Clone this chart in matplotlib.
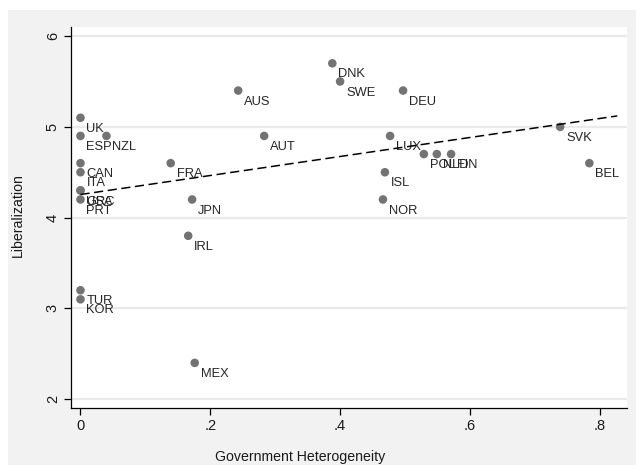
import matplotlib
matplotlib.use("Agg")
import matplotlib.pyplot as plt
from matplotlib.patches import Rectangle
import numpy as np

plt.rcParams['font.family'] = ['Liberation Sans', 'DejaVu Sans']

countries = ["UK", "ESP", "NZL", "CAN", "ITA", "GRC", "USA", "PRT", "TUR", "KOR",
             "FRA", "JPN", "IRL", "MEX", "AUS", "AUT", "DNK", "SWE", "DEU", "LUX",
             "ISL", "NOR", "POL", "NLD", "FIN", "SVK", "BEL"]
heterogeneity = [0.0, 0.0, 0.04, 0.0, 0.0, 0.0, 0.0, 0.0, 0.0, 0.0,
                 0.139, 0.172, 0.166, 0.176, 0.243, 0.283, 0.388, 0.400, 0.497, 0.477,
                 0.469, 0.466, 0.529, 0.549, 0.571, 0.739, 0.784]
liberalization = [5.1, 4.9, 4.9, 4.6, 4.5, 4.3, 4.3, 4.2, 3.2, 3.1,
                  4.6, 4.2, 3.8, 2.4, 5.4, 4.9, 5.7, 5.5, 5.4, 4.9,
                  4.5, 4.2, 4.7, 4.7, 4.7, 5.0, 4.6]
xticks = [0, 0.2, 0.4, 0.6, 0.8]
xticklabels = ["0", ".2", ".4", ".6", ".8"]
yticks = [2, 3, 4, 5, 6]
yticklabels = ["2", "3", "4", "5", "6"]

W, H = 636, 465
fig = plt.figure(figsize=(W / 100, H / 100), dpi=100, facecolor='white')
fig.patches.append(Rectangle((8 / W, 0), 1 - 8 / W, 1 - 10 / H, transform=fig.transFigure,
                             facecolor='#f2f2f2', edgecolor='none', zorder=-10))

ax_l, ax_r, ax_t, ax_b = 71, 627, 27, 408
ax = fig.add_axes([ax_l / W, (H - ax_b) / H, (ax_r - ax_l) / W, (ax_b - ax_t) / H])
ax.set_zorder(1)
ax.set_facecolor('white')
ax.set_xlim(-0.0146, 0.842)
ax.set_ylim(1.903, 6.10)

for yv in yticks:
    ax.axhline(yv, color='#eaeaea', lw=1.6, zorder=0)

x = np.array(heterogeneity)
y = np.array(liberalization)
ax.scatter(x, y, s=38, color='#737373', edgecolors='none', zorder=3)

for c, xv, yv in zip(countries, heterogeneity, liberalization):
    ax.annotate(c, (xv, yv), xytext=(4.3, -8), textcoords='offset points',
                ha='left', va='center', fontsize=9.3, color='#262626', zorder=4)

b, a = np.polyfit(x, y, 1)
xs = np.array([0, 0.827])
ax.plot(xs, a + b * xs, color='black', lw=1.1, ls=(0, (6, 3)), zorder=5)

for s in ['top', 'right']:
    ax.spines[s].set_visible(False)
for s in ['left', 'bottom']:
    ax.spines[s].set_linewidth(0.9)

ax.set_xticks(xticks)
ax.set_xticklabels(xticklabels, fontsize=10.5, color='#1a1a1a')
ax.set_yticks(yticks)
ax.set_yticklabels(yticklabels, fontsize=10.5, color='#1a1a1a', rotation=90, va='center')
ax.tick_params(axis='both', direction='out', length=5, width=0.9, pad=3)

ax.set_xlabel("Government Heterogeneity", fontsize=10.2, color='#1a1a1a')
ax.set_ylabel("Liberalization", fontsize=10.2, color='#1a1a1a')
ax.xaxis.set_label_coords((300 - ax_l) / (ax_r - ax_l), (ax_b - 457) / (ax_b - ax_t))
ax.yaxis.set_label_coords((18 - ax_l) / (ax_r - ax_l), (ax_b - 215) / (ax_b - ax_t))
ax.xaxis.label.set_va('center')
ax.yaxis.label.set_va('center')

fig.savefig("out.png", dpi=100, facecolor=fig.get_facecolor())
